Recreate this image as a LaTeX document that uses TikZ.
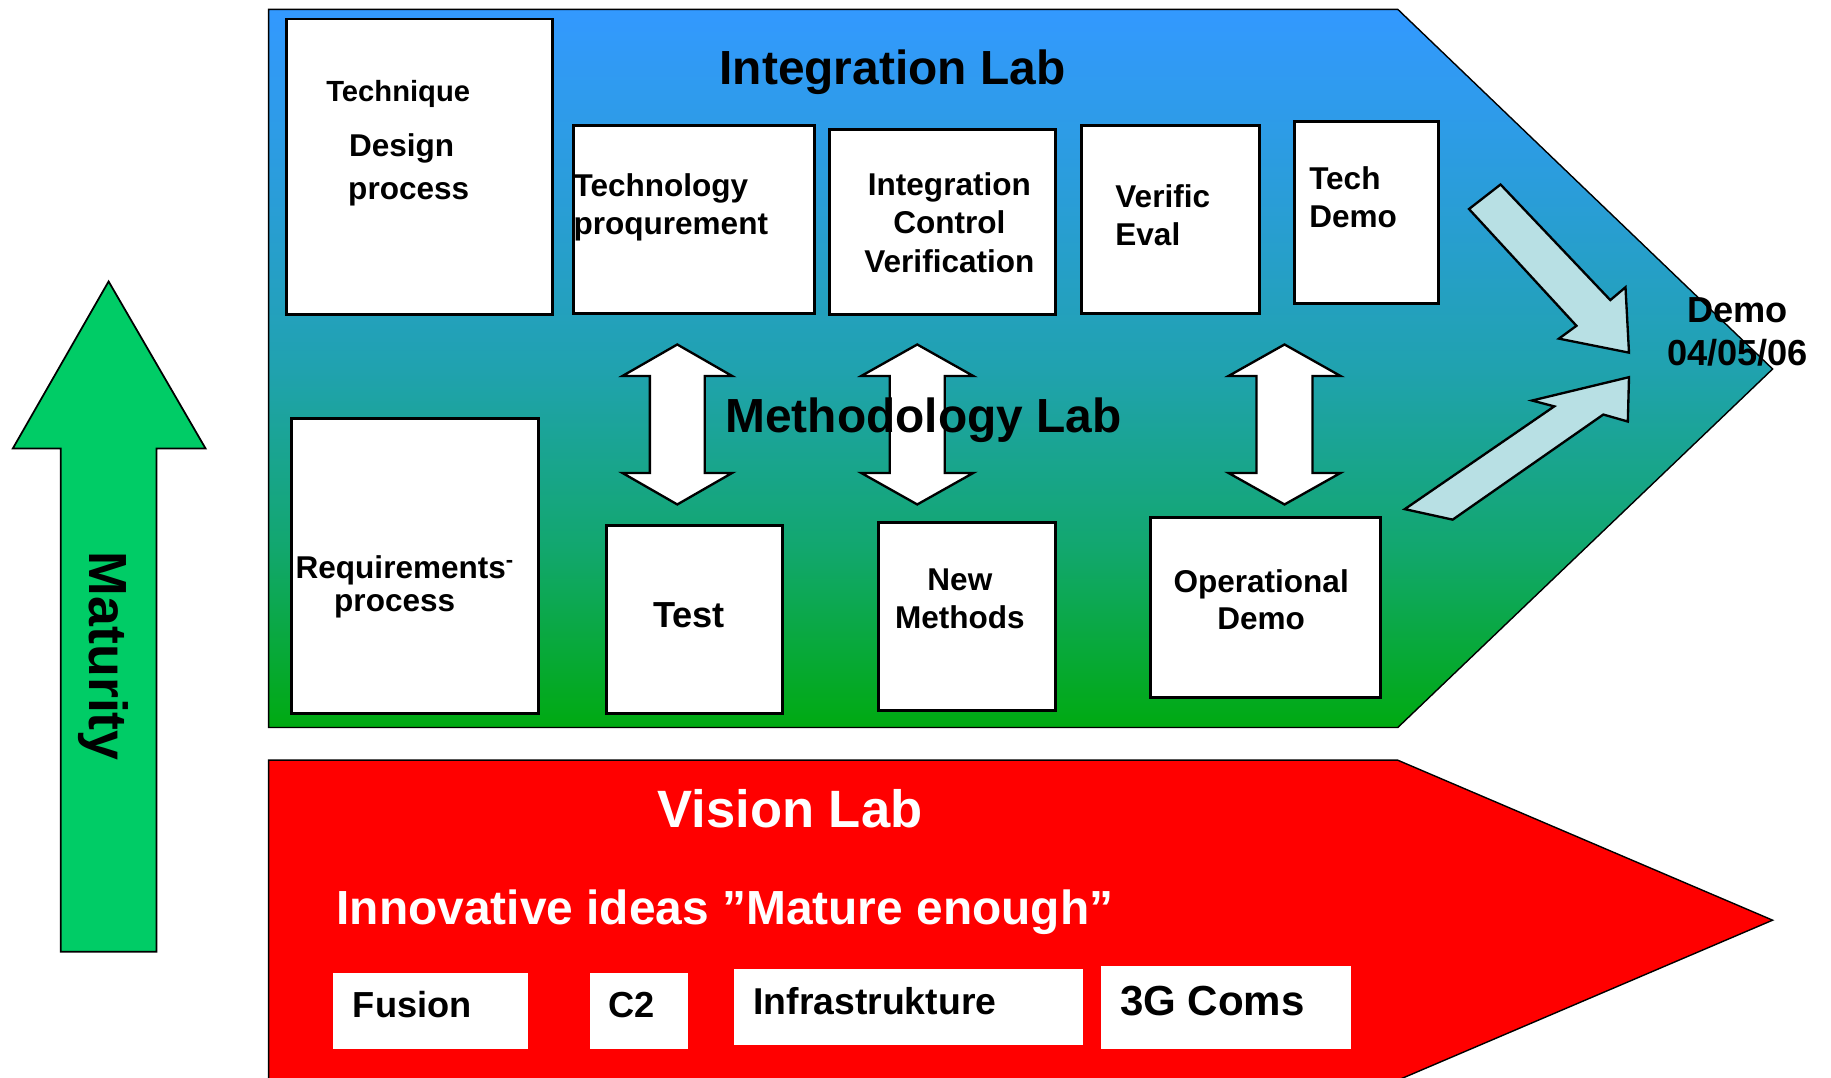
\documentclass[tikz,border=0pt]{standalone}
\usepackage{fontspec}
\setmainfont{Liberation Sans}
\newcommand{\fsz}[1]{\fontsize{#1}{#1}\selectfont}
\definecolor{topblue}{RGB}{51,153,255}
\definecolor{upblue}{RGB}{42,157,218}
\definecolor{midteal}{RGB}{32,162,175}
\definecolor{lowteal}{RGB}{18,167,110}
\definecolor{botgreen}{RGB}{0,170,17}
\definecolor{vred}{RGB}{255,0,0}
\definecolor{matgreen}{RGB}{0,204,102}
\definecolor{lightarr}{RGB}{184,224,228}
\pgfdeclareverticalshading{labshade}{100bp}{%
  color(0bp)=(botgreen); color(25bp)=(botgreen); color(37.5bp)=(lowteal);
  color(50bp)=(midteal); color(62.5bp)=(upblue); color(75bp)=(topblue); color(100bp)=(topblue)}
\begin{document}
\begin{tikzpicture}[x=1pt,y=-1pt,
  box/.style={draw=black, line width=2.5pt, fill=white, inner sep=0pt, anchor=north west},
  wbox/.style={fill=white, inner sep=0pt, anchor=north west},
  dbl/.style={draw=black, line width=2pt, fill=white, line join=miter},
  lba/.style={draw=black, line width=2pt, fill=lightarr, line join=miter},
  txt/.style={inner sep=0pt, font=\bfseries\fsz{#1}},
  txt/.default=27
]
\useasboundingbox (0,0) rectangle (1568,923);
\clip (0,0) rectangle (1568,923);

% Integration / Methodology lab pentagon
\shade[shading=labshade]
  (230,8) -- (1197,8) -- (1518,316) -- (1197,623) -- (230,623) -- cycle;
\draw[line width=1.2pt] (230,8) -- (1197,8) -- (1518,316) -- (1197,623) -- (230,623) -- cycle;

% Vision lab pentagon
\fill[vred] (230,651) -- (1197,651) -- (1518,788) -- (1197,925) -- (230,925) -- cycle;
\draw[line width=1.2pt] (230,651) -- (1197,651) -- (1518,788) -- (1197,925) -- (230,925) -- cycle;

% Maturity arrow
\draw[line width=1.5pt, fill=matgreen, line join=miter]
  (93,241) -- (176,384) -- (134,384) -- (134,815) -- (52,815) -- (52,384) -- (11,384) -- cycle;
\node[txt=46, rotate=-90, anchor=base] (mat) at (77,562) {Maturity};

% Boxes of the integration lab
\node[box, minimum width=228, minimum height=253] (tdp) at (244,15) {};
\node[box, minimum width=206, minimum height=161] (tpq) at (490,106) {};
\node[box, minimum width=194, minimum height=158] (icv) at (709,110) {};
\node[box, minimum width=152, minimum height=161] (vev) at (925,106) {};
\node[box, minimum width=124, minimum height=156] (tdm) at (1107,103) {};
% Boxes of the methodology lab
\node[box, minimum width=212, minimum height=253] (req) at (248,357) {};
\node[box, minimum width=151, minimum height=161] (tst) at (518,449) {};
\node[box, minimum width=152, minimum height=161] (nmt) at (751,446) {};
\node[box, minimum width=197, minimum height=154] (opd) at (984,442) {};
% Boxes of the vision lab
\node[wbox, minimum width=167, minimum height=65] (fus) at (285,833) {};
\node[wbox, minimum width=84, minimum height=65] (ctw) at (505,833) {};
\node[wbox, minimum width=299, minimum height=65] (inf) at (628,830) {};
\node[wbox, minimum width=214, minimum height=71] (tgc) at (943,827) {};

% Double arrows
\draw[dbl, shift={(580,0)}] (0,295) -- (47,322) -- (23.5,322) -- (23.5,405) -- (47,405) -- (0,432)
  -- (-47,405) -- (-23.5,405) -- (-23.5,322) -- (-47,322) -- cycle;
\draw[dbl, shift={(785.5,0)}] (0,295) -- (48,322) -- (23.5,322) -- (23.5,405) -- (48,405) -- (0,432)
  -- (-48,405) -- (-23.5,405) -- (-23.5,322) -- (-48,322) -- cycle;
\draw[dbl, shift={(1100,0)}] (0,295) -- (48,322) -- (24,322) -- (24,405) -- (48,405) -- (0,432)
  -- (-48,405) -- (-24,405) -- (-24,322) -- (-48,322) -- cycle;

% Light arrows towards the demo
\draw[lba] (1258,179) -- (1285,158) -- (1379,257) -- (1392,246) -- (1395,302) -- (1335,290) -- (1350,279) -- cycle;
\draw[lba] (1203,436) -- (1331,348) -- (1312,343) -- (1395,323) -- (1394,361) -- (1373,355) -- (1244,445) -- cycle;

% Titles
\node[txt=41, anchor=base west] (intlab) at (616,72.5) {Integration Lab};
\node[txt=41, anchor=base west] (metlab) at (621,370.5) {Methodology Lab};
\node[txt=45, anchor=base west, text=white] (vislab) at (563,708.5) {Vision Lab};
\node[txt=41, anchor=base west, text=white] (innov) at (288,792) {Innovative ideas ”Mature enough”};

% Box texts
\node[txt=25, anchor=base] (tdp1) at (341,87) {Technique};
\node[txt, anchor=base] (tdp2) at (344,134) {Design};
\node[txt, anchor=base] (tdp3) at (350,171) {process};
\node[txt, anchor=base west] (tpq1) at (491,168) {Technology};
\node[txt, anchor=base west] (tpq2) at (491,201) {proqurement};
\node[txt, anchor=base] (icv1) at (813,167) {Integration};
\node[txt, anchor=base] (icv2) at (813,200) {Control};
\node[txt, anchor=base] (icv3) at (813,233) {Verification};
\node[txt, anchor=base west] (vev1) at (955,177.5) {Verific};
\node[txt, anchor=base west] (vev2) at (955,210.5) {Eval};
\node[txt, anchor=base west] (tdm1) at (1121,162) {Tech};
\node[txt, anchor=base west] (tdm2) at (1121,195) {Demo};
\node[txt=31, anchor=base] (demo1) at (1488,276) {Demo};
\node[txt=31, anchor=base] (demo2) at (1488,313) {04/05/06};
\node[txt, anchor=base west] (req1) at (253,495) {Requirements\textsuperscript{-}};
\node[txt, anchor=base] (req2) at (338,524) {process};
\node[txt=31, anchor=base] (tst1) at (590,537) {Test};
\node[txt, anchor=base] (nmt1) at (822,506) {New};
\node[txt, anchor=base] (nmt2) at (822,538) {Methods};
\node[txt, anchor=base] (opd1) at (1080,507) {Operational};
\node[txt, anchor=base] (opd2) at (1080,539) {Demo};
\node[txt=31, anchor=base west] (fus1) at (302,871) {Fusion};
\node[txt=31, anchor=base west] (ctw1) at (521,871) {C2};
\node[txt=32, anchor=base west] (inf1) at (645,869) {Infrastrukture};
\node[txt=36, anchor=base west] (tgc1) at (959,870) {3G Coms};
\end{tikzpicture}
\end{document}
